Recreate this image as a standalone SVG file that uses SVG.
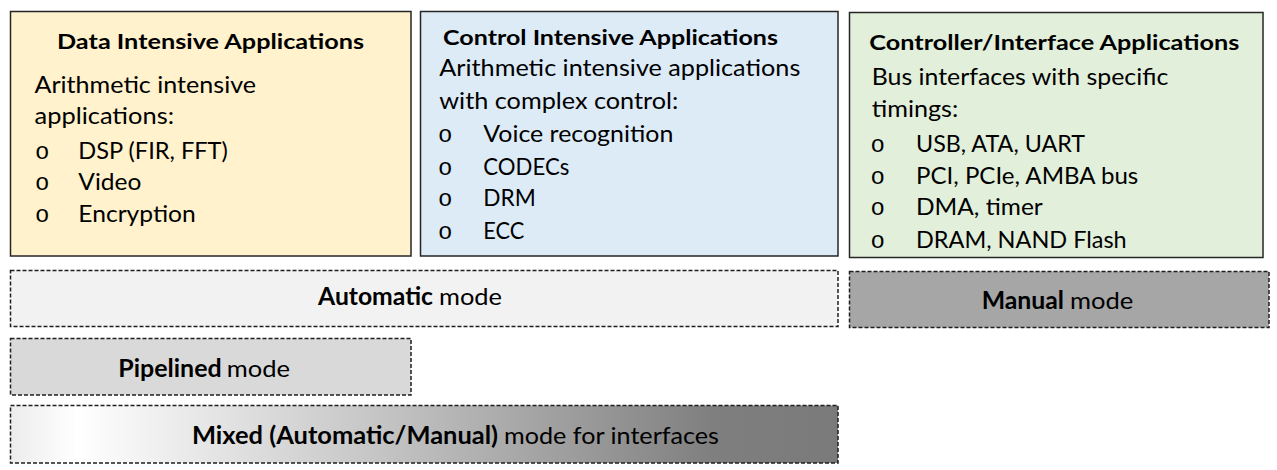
<svg xmlns="http://www.w3.org/2000/svg" width="1277" height="470" viewBox="0 0 1277 470">
<defs>
<linearGradient id="mixGrad" x1="0" y1="0" x2="1" y2="0">
<stop offset="0" stop-color="#ececec"/>
<stop offset="0.08" stop-color="#ffffff"/>
<stop offset="0.45" stop-color="#c4c4c4"/>
<stop offset="0.85" stop-color="#7f7f7f"/>
<stop offset="1" stop-color="#7a7a7a"/>
</linearGradient>
</defs>
<style>
.box{stroke:#262626;stroke-width:1.5}
.dash{stroke:#1f1f1f;stroke-width:1.5;stroke-dasharray:4 2}
text{font-family:Lato,"Liberation Sans",sans-serif;fill:#000}
.t{font-size:21.5px;font-weight:bold}
.b{font-size:24px}
.m{font-size:24px}
.bold{font-weight:bold}
.bul{font-family:"Liberation Mono",monospace;font-size:24px}
</style>
<rect width="1277" height="470" fill="#ffffff"/>

<g id="data-intensive">
<rect class="box" x="10.5" y="11.5" width="400.5" height="244.5" fill="#FFF2CC"/>
<text class="t" x="57" y="49" textLength="307" lengthAdjust="spacingAndGlyphs">Data Intensive Applications</text>
<text class="b" x="34.5" y="93" textLength="221.5" lengthAdjust="spacingAndGlyphs">Arithmetic intensive</text>
<text class="b" x="34.5" y="124" textLength="139.5" lengthAdjust="spacingAndGlyphs">applications:</text>
<text class="bul" x="35" y="159">o</text>
<text class="bul" x="35" y="190">o</text>
<text class="bul" x="35" y="221.5">o</text>
<text class="b" x="78.3" y="159" textLength="149.5" lengthAdjust="spacingAndGlyphs">DSP (FIR, FFT)</text>
<text class="b" x="78.3" y="190" textLength="63" lengthAdjust="spacingAndGlyphs">Video</text>
<text class="b" x="78.3" y="221.5" textLength="117.5" lengthAdjust="spacingAndGlyphs">Encryption</text>
</g>

<g id="control-intensive">
<rect class="box" x="420.5" y="11.5" width="417.5" height="244.5" fill="#DDEBF7"/>
<text class="t" x="443" y="45" textLength="335" lengthAdjust="spacingAndGlyphs">Control Intensive Applications</text>
<text class="b" x="439.3" y="75.5" textLength="361" lengthAdjust="spacingAndGlyphs">Arithmetic intensive applications</text>
<text class="b" x="439.3" y="109" textLength="239" lengthAdjust="spacingAndGlyphs">with complex control:</text>
<text class="bul" x="438" y="141.7">o</text>
<text class="bul" x="438" y="175">o</text>
<text class="bul" x="438" y="206">o</text>
<text class="bul" x="438" y="239">o</text>
<text class="b" x="483.3" y="141.7" textLength="190" lengthAdjust="spacingAndGlyphs">Voice recognition</text>
<text class="b" x="483.3" y="175" textLength="86" lengthAdjust="spacingAndGlyphs">CODECs</text>
<text class="b" x="483.3" y="206" textLength="52.5" lengthAdjust="spacingAndGlyphs">DRM</text>
<text class="b" x="483.3" y="239" textLength="41" lengthAdjust="spacingAndGlyphs">ECC</text>
</g>

<g id="controller-interface">
<rect class="box" x="849.5" y="12.5" width="413.5" height="245" fill="#E2EFDA"/>
<text class="t" x="869.3" y="50" textLength="370" lengthAdjust="spacingAndGlyphs">Controller/Interface Applications</text>
<text class="b" x="871.7" y="85" textLength="296.6" lengthAdjust="spacingAndGlyphs">Bus interfaces with specific</text>
<text class="b" x="871.7" y="117" textLength="86.6" lengthAdjust="spacingAndGlyphs">timings:</text>
<text class="bul" x="870.5" y="151.7">o</text>
<text class="bul" x="870.5" y="184">o</text>
<text class="bul" x="870.5" y="215">o</text>
<text class="bul" x="870.5" y="248.3">o</text>
<text class="b" x="916" y="151.7" textLength="169" lengthAdjust="spacingAndGlyphs">USB, ATA, UART</text>
<text class="b" x="916" y="184" textLength="222.3" lengthAdjust="spacingAndGlyphs">PCI, PCIe, AMBA bus</text>
<text class="b" x="916" y="215" textLength="126.7" lengthAdjust="spacingAndGlyphs">DMA, timer</text>
<text class="b" x="916" y="248.3" textLength="210.7" lengthAdjust="spacingAndGlyphs">DRAM, NAND Flash</text>
</g>

<g id="automatic-mode">
<rect class="dash" x="10.5" y="270.5" width="827.5" height="56" fill="#F2F2F2"/>
<text class="m" y="305.3"><tspan class="bold" x="318" textLength="115" lengthAdjust="spacingAndGlyphs">Automatic</tspan><tspan x="439" textLength="63" lengthAdjust="spacingAndGlyphs">mode</tspan></text>
</g>

<g id="manual-mode">
<rect class="dash" x="849.5" y="271.5" width="419.5" height="56" fill="#A6A6A6"/>
<text class="m" y="308.7"><tspan class="bold" x="981.7" textLength="82.3" lengthAdjust="spacingAndGlyphs">Manual</tspan><tspan x="1070" textLength="63.3" lengthAdjust="spacingAndGlyphs">mode</tspan></text>
</g>

<g id="pipelined-mode">
<rect class="dash" x="10.5" y="338.5" width="400.5" height="56.5" fill="#D9D9D9"/>
<text class="m" y="376.7"><tspan class="bold" x="118.3" textLength="103.4" lengthAdjust="spacingAndGlyphs">Pipelined</tspan><tspan x="226.7" textLength="63.3" lengthAdjust="spacingAndGlyphs">mode</tspan></text>
</g>

<g id="mixed-mode">
<rect class="dash" x="10.5" y="405.5" width="827.5" height="57.5" fill="url(#mixGrad)"/>
<text class="m" y="444"><tspan class="bold" x="192" textLength="306" lengthAdjust="spacingAndGlyphs">Mixed (Automatic/Manual)</tspan><tspan x="504" textLength="215" lengthAdjust="spacingAndGlyphs">mode for interfaces</tspan></text>
</g>
</svg>
